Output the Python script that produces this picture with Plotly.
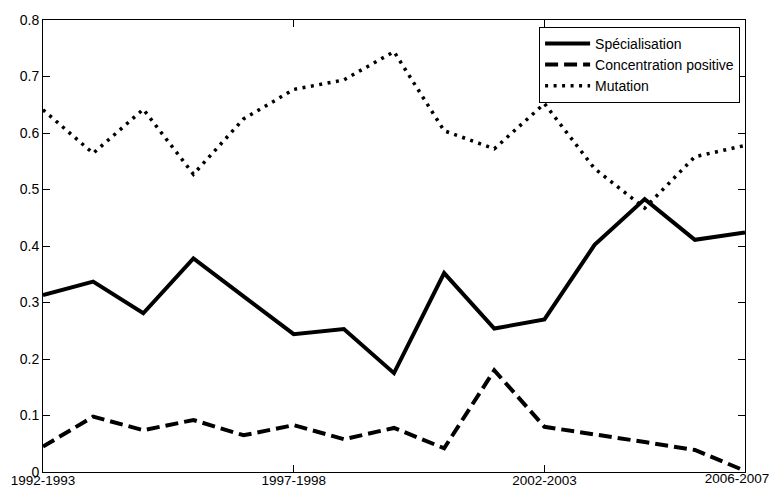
import plotly.graph_objects as go

periods = [f"{y}-{y+1}" for y in range(1992, 2007)]
tick_labels = ["1992-1993", "1997-1998", "2002-2003", "2006-2007"]

specialisation = [0.313, 0.337, 0.281, 0.378, 0.311, 0.244, 0.253, 0.175, 0.352, 0.254, 0.270, 0.402, 0.483, 0.411, 0.424]
concentration = [0.045, 0.098, 0.074, 0.092, 0.065, 0.083, 0.058, 0.078, 0.042, 0.180, 0.080, 0.067, 0.053, 0.039, 0.002]
mutation = [0.641, 0.564, 0.642, 0.527, 0.625, 0.677, 0.694, 0.744, 0.604, 0.572, 0.652, 0.537, 0.467, 0.558, 0.578]

font = "Liberation Sans, Arial, sans-serif"

fig = go.Figure()
fig.add_trace(go.Scatter(x=periods, y=specialisation, mode="lines", name="Spécialisation",
                         line=dict(color="black", width=4)))
fig.add_trace(go.Scatter(x=periods, y=concentration, mode="lines", name="Concentration positive",
                         line=dict(color="black", width=4, dash="13px,6px")))
fig.add_trace(go.Scatter(x=periods, y=mutation, mode="lines", name="Mutation",
                         line=dict(color="black", width=3.5, dash="3px,5.5px")))
# empty helper trace so the overlay axis carrying the last label is drawn
fig.add_trace(go.Scatter(x=[None], y=[None], xaxis="x2", yaxis="y", mode="lines",
                         showlegend=False, hoverinfo="skip"))

fig.update_layout(
    width=771, height=483,
    margin=dict(l=35, r=34, t=12, b=19),
    paper_bgcolor="white", plot_bgcolor="white",
    font=dict(family=font, size=14, color="black"),
    showlegend=True,
    legend=dict(x=0.993, y=0.985, xanchor="right", yanchor="top",
                bgcolor="white", bordercolor="black", borderwidth=1,
                font=dict(family=font, size=14, color="black"),
                itemwidth=45, tracegroupgap=0),
    xaxis2=dict(
        overlaying="x", anchor="y", side="bottom",
        range=[0, 14], automargin=False,
        tickvals=[14], ticktext=[tick_labels[-1]],
        tickfont=dict(family=font, size=13.5, color="black"),
        ticks="", ticklabelstandoff=-4, ticklabelshift=-8,
        ticklabeloverflow="allow",
        showline=False, showgrid=False, zeroline=False,
    ),
)
fig.update_xaxes(
    selector=dict(anchor="y", overlaying=None),
)
fig.layout.xaxis.update(
    type="category", range=[0, 14], automargin=False,
    tickvals=tick_labels, ticktext=tick_labels[:-1] + [""],
    tickfont=dict(family=font, size=13.5, color="black"),
    ticks="inside", ticklen=7, tickcolor="black", tickwidth=1,
    ticklabeloverflow="allow", ticklabelstandoff=-4,
    showline=True, linecolor="black", linewidth=1, mirror="ticks",
    showgrid=False, zeroline=False,
)
fig.update_yaxes(
    range=[0, 0.8], dtick=0.1, tick0=0, automargin=False,
    ticks="inside", ticklen=7, tickcolor="black", tickwidth=1,
    showline=True, linecolor="black", linewidth=1, mirror="ticks",
    showgrid=False, zeroline=False,
)

fig.write_html("out.html")
